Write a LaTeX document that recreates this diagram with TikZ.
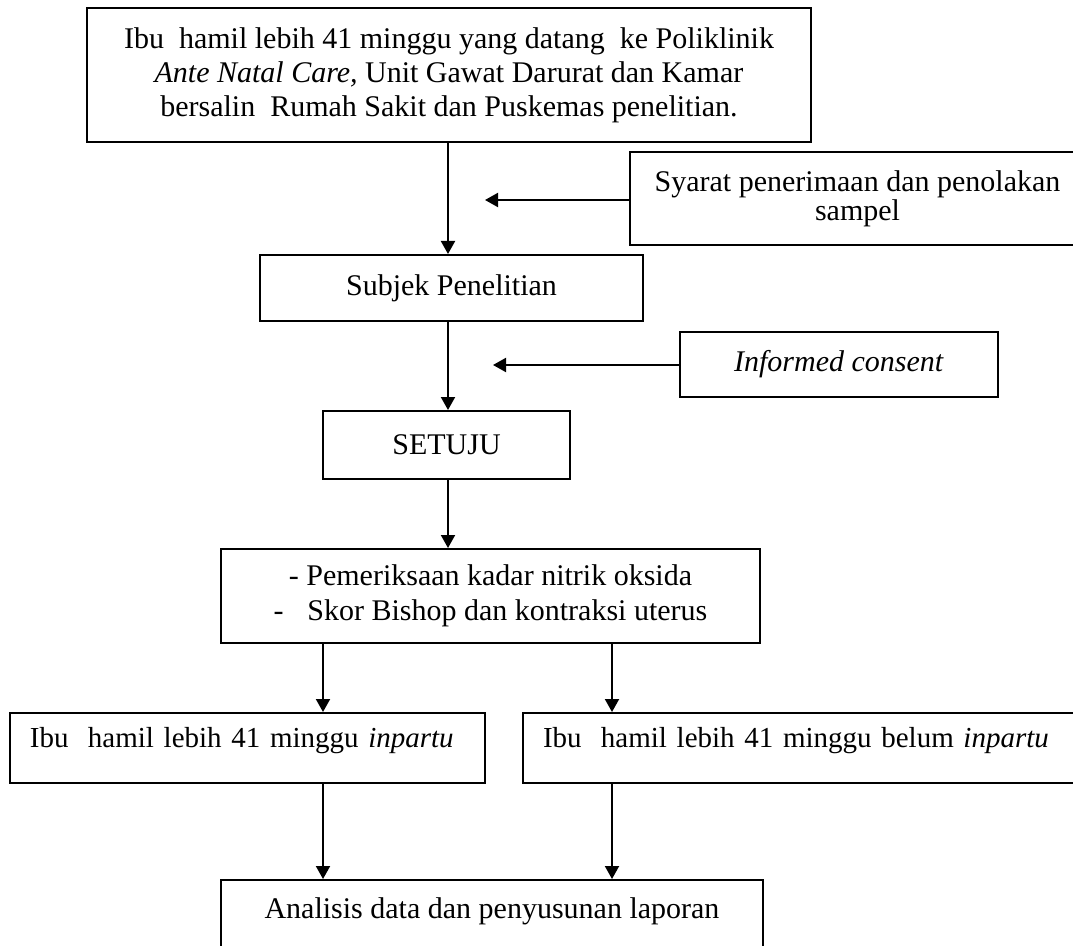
\documentclass[tikz,border=0pt]{standalone}
\usepackage{fontspec}
\setmainfont{Liberation Serif}
\usetikzlibrary{arrows.meta}
\begin{document}
\begin{tikzpicture}[x=0.4pt, y=-0.4pt, line width=0.8pt,
  box/.style={draw, inner sep=0pt, align=center,
    font=\fontsize{12pt}{13.6pt}\selectfont},
  leftbox/.style={box, align=left, inner xsep=8pt, minimum height=28pt,
    text depth=8.2pt, font=\fontsize{11.6pt}{13.6pt}\selectfont},
  arr/.style={-{Triangle[length=5.2pt,width=5.6pt]}}]
\useasboundingbox (0,0) rectangle (1073,946);
\clip (0,0) rectangle (1073,946);

% flow boxes
\node[box, minimum width=289.6pt, minimum height=53.6pt] (intake) at (449,75)
  {Ibu\ \ hamil lebih 41 minggu yang datang\ \ ke Poliklinik\\
   \textit{Ante Natal Care,} Unit Gawat Darurat dan Kamar\\
   bersalin\ \ Rumah Sakit dan Puskemas penelitian.};
\node[box, minimum width=182pt, minimum height=37.2pt,
  font=\fontsize{12pt}{11.6pt}\selectfont] (criteria) at (857.5,198.5)
  {Syarat penerimaan dan penolakan\\ sampel};
\node[box, minimum width=153.2pt, minimum height=26.4pt] (subject) at (451.5,288)
  {Subjek Penelitian};
\node[box, minimum width=127.2pt, minimum height=26pt] (consent) at (839,364.5)
  {\textit{Informed consent}};
\node[box, minimum width=98.8pt, minimum height=27.2pt] (agree) at (446.5,445)
  {SETUJU};
\node[box, minimum width=215.6pt, minimum height=37.6pt,
  font=\fontsize{12pt}{14pt}\selectfont] (exam) at (490.5,596)
  {- Pemeriksaan kadar nitrik oksida\\ -\hspace{9.5pt}Skor Bishop dan kontraksi uterus};
\node[leftbox, text width=174pt] (labour) at (247.5,748)
  {\mbox{Ibu\ \ hamil lebih 41 minggu \textit{inpartu}}};
\node[leftbox, text width=208.8pt] (notlabour) at (804,748)
  {\mbox{Ibu\ \ hamil lebih 41 minggu belum \textit{inpartu}}};
\node[box, minimum width=216.8pt, minimum height=30pt, text depth=7.8pt] (report) at (492,917.5)
  {Analisis data dan penyusunan laporan};

% connector guides
\coordinate (spine) at (448,0);
\coordinate (lcol) at (323,0);
\coordinate (rcol) at (612,0);
\coordinate (critTip) at (485,200);
\coordinate (consTip) at (493,365);

% connectors
\draw[arr] (intake.south -| spine) -- (subject.north -| spine);
\draw[arr] (criteria.west |- critTip) -- (critTip);
\draw[arr] (subject.south -| spine) -- (agree.north -| spine);
\draw[arr] (consent.west |- consTip) -- (consTip);
\draw[arr] (agree.south -| spine) -- (exam.north -| spine);
\draw[arr] (exam.south -| lcol) -- (labour.north -| lcol);
\draw[arr] (exam.south -| rcol) -- (notlabour.north -| rcol);
\draw[arr] (labour.south -| lcol) -- (report.north -| lcol);
\draw[arr] (notlabour.south -| rcol) -- (report.north -| rcol);
\end{tikzpicture}
\end{document}
